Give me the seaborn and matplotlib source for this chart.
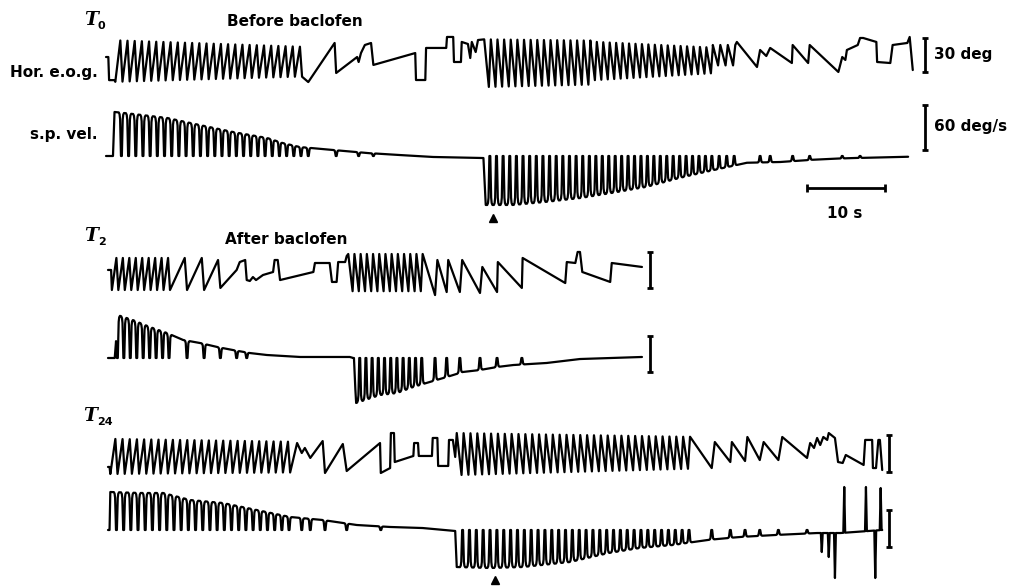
import numpy as np
import pandas as pd
import matplotlib
matplotlib.use("Agg")
import matplotlib.pyplot as plt
import seaborn as sns

# ---------------------------------------------------------------------------
# Recordings: time in s, horizontal e.o.g. in deg, slow-phase velocity in deg/s
# ---------------------------------------------------------------------------

# Regular nystagmus runs:
# (start s, end s, beats, low0, high0, low1, high1, slow-phase sense)
# sense +1: slow phase drifts up, quick phase resets down; -1: the reverse
T0_EOG_RUNS = [
    (1.2, 25.3, 26, -17.5, 19.0, -13.0, 13.5, +1),
    (48.8, 62.5, 16, -22.0, 20.0, -20.0, 19.0, -1),
    (62.5, 78.3, 19, -16.0, 18.0, -10.0, 13.0, -1),
    (78.3, 81.2, 3, -3.0, 15.0, -3.0, 15.0, -1),
]
# irregular stretches of the e.o.g. between the runs
T0_EOG_FREE_T = [0.0, 0.3, 0.4, 1.1, 26.1, 29.5, 29.7, 32.4, 32.6, 32.9, 33.4, 34.2, 34.5,
                 39.9, 40.0, 41.2, 41.3, 43.9, 44.0, 44.8, 44.9, 45.8, 45.9, 46.7, 47.0,
                 47.2, 47.7, 48.0, 81.4, 84.0, 84.4, 85.2, 85.7, 88.5, 88.6, 90.6, 90.8,
                 94.5, 95.0, 95.4, 95.6, 97.0, 97.3, 97.7, 99.4, 99.5, 101.2, 101.5, 103.4,
                 103.7, 104.1]
T0_EOG_FREE_V = [4.4, 4.4, -16.0, -16.0, -17.7, 16.8, -9.7, 4.4, 0.0, 7.9, 15.0, 16.8, -2.6,
                 7.9, -15.9, -15.9, 12.4, 12.4, 22.1, 22.1, 0.0, 0.0, 17.7, 15.9, 3.5,
                 17.7, 8.8, 19.4, 17.7, -4.4, 10.6, 5.3, 12.4, -0.9, 15.0, -0.9, 15.0,
                 -8.8, 4.4, 1.8, 10.6, 15.0, 21.2, 21.2, 17.7, 0.0, -0.9, 15.0, 16.8,
                 22.1, -7.1]
# slow-phase velocity level between quick phases
T0_VEL_T = [0.0, 0.9, 1.1, 3.5, 7.9, 12.1, 16.4, 20.8, 22.8, 25.0, 29.3, 33.7, 37.9,
            42.2, 48.7, 49.0, 49.5, 52.5, 56.9, 61.2, 65.4, 69.8, 74.1, 78.3, 82.7,
            87.0, 91.2, 95.6, 103.5]
T0_VEL_V = [0.0, 0.0, 58.7, 56.0, 50.7, 41.3, 32.0, 24.0, 17.3, 12.0, 8.0, 4.0, 1.3,
            -1.3, -2.7, -65.3, -65.3, -65.3, -61.0, -56.0, -49.0, -41.0, -29.0, -19.0,
            -9.0, -8.0, -5.0, -3.0, -1.0]
T0_VEL_QUICK_EXTRA = [26.1, 29.7, 32.6, 34.5, 84.4, 85.7, 88.6, 90.8, 95.0, 97.3]

T2_EOG_RUNS = [
    (0.5, 8.0, 9, -15.0, 11.7, -15.0, 11.7, +1),
    (31.0, 40.6, 12, -16.0, 15.0, -16.0, 15.0, -1),
]
T2_EOG_FREE_T = [0.0, 0.4, 9.9, 10.2, 12.1, 12.4, 14.2, 14.5, 16.6, 17.0, 17.7, 17.9,
                 18.3, 18.7, 19.1, 20.0, 21.3, 21.5, 21.9, 22.2, 26.5, 26.7, 28.6, 28.9,
                 29.5, 29.7, 30.6, 30.8, 42.2, 42.5, 43.7, 43.9, 45.4, 45.7, 48.0, 48.3,
                 50.2, 50.3, 53.4, 53.5, 59.0, 59.2, 60.3, 60.6, 60.9, 61.2, 64.8, 65.0,
                 68.9]
T2_EOG_FREE_V = [1.7, 1.7, 11.7, -15.0, 11.7, -15.0, 10.0, -13.3, 1.7, 8.3, 10.0, -6.7,
                 -7.5, -4.2, -6.7, -2.5, 0.0, 10.0, 10.0, -6.7, 0.0, 7.5, 7.5, -8.3,
                 -8.3, 8.3, 8.3, 13.3, -19.2, 10.0, -16.7, 10.0, -16.7, 10.0, -17.5, 4.2,
                 -16.7, 8.3, -13.3, 11.7, -9.2, 8.3, 7.5, 16.7, 16.7, 0.0, -8.3, 7.5,
                 4.2]
T2_VEL_T = [0.0, 0.9, 1.2, 3.2, 5.4, 7.6, 9.7, 11.9, 14.1, 16.1, 18.3, 20.5, 24.8,
            31.2, 31.7, 32.0, 35.1, 37.3, 39.4, 41.5, 43.7, 45.8, 48.0, 50.2, 52.3,
            56.6, 60.9, 68.9]
T2_VEL_V = [0.0, 0.0, 71.7, 63.3, 51.7, 41.7, 30.0, 25.0, 18.3, 13.3, 8.3, 5.0, 1.7,
            1.7, 0.0, -75.0, -61.7, -58.3, -48.3, -40.0, -31.7, -23.3, -20.0, -15.0,
            -11.7, -8.3, -1.7, 1.7]
T2_VEL_QUICK_EXTRA = [10.2, 12.4, 14.5, 16.6, 17.9, 42.2, 43.7, 45.4, 48.0, 50.2, 53.4]

T24_EOG_RUNS = [
    (0.3, 23.5, 25, -16.2, 12.2, -15.0, 10.0, +1),
    (45.0, 75.1, 34, -17.0, 17.0, -12.0, 14.0, -1),
]
T24_EOG_FREE_T = [0.0, 0.2, 24.4, 25.0, 25.4, 26.1, 27.7, 28.0, 30.3, 30.8, 35.1, 35.2,
                  36.4, 36.5, 36.9, 37.0, 39.4, 39.5, 40.0, 40.1, 41.8, 41.9, 42.5, 42.6,
                  43.9, 44.0, 44.5, 44.8, 77.9, 78.3, 80.3, 80.5, 82.2, 82.5, 84.1, 84.6,
                  86.5, 87.0, 90.2, 90.6, 91.1, 91.5, 91.9, 92.3, 92.8, 93.0, 93.8, 94.2,
                  94.8, 95.2, 97.5, 97.7, 98.6, 98.7, 99.1, 99.4, 99.6, 99.9]
T24_EOG_FREE_V = [-10.5, -10.5, 8.9, 0.8, 4.9, -3.2, 10.5, -15.4, 8.1, -13.8, 8.9, -15.4,
                  -11.4, 17.0, 17.0, -6.5, -1.6, 8.9, 8.9, -1.6, -1.6, 13.0, 13.0, -9.7,
                  -9.7, 11.4, 11.4, -2.4, -11.4, 9.7, -6.5, 9.7, -5.7, 13.8, -4.9, 9.7,
                  -4.9, 13.8, -3.2, 8.9, 4.9, 13.0, 7.3, 13.8, 11.4, 17.0, 13.0, -6.5,
                  -7.3, -0.8, -8.9, 11.4, 11.4, -11.4, -11.4, 11.4, 11.4, -13.0]
T24_VEL_T = [0.0, 0.2, 0.3, 4.1, 7.1, 10.6, 14.8, 19.2, 23.5, 27.7, 32.1, 36.4, 40.6,
             44.8, 45.0, 49.3, 53.5, 59.6, 64.6, 68.6, 72.9, 77.3, 81.5, 86.1, 91.5,
             94.5, 99.9]
T24_VEL_V = [0.0, 0.0, 61.6, 60.0, 60.0, 48.6, 43.8, 32.4, 21.1, 16.2, 8.1, 4.9, 3.2,
             -1.6, -60.0, -61.6, -60.0, -51.9, -37.3, -29.2, -24.3, -16.2, -11.3, -8.1,
             -4.9, -4.9, 0.0]
T24_VEL_QUICK_EXTRA = [25.0, 26.1, 28.0, 30.8, 35.2, 77.9, 80.3, 82.2, 84.1, 86.5, 90.2]
# large saccadic artefacts at the end of the T24 velocity record
T24_VEL_SPIKE_T = [92.1, 93.0, 93.8, 95.0, 97.8, 99.0, 99.7]
T24_VEL_SPIKE_V = [-35.7, -43.8, -77.8, 69.7, 69.7, -77.8, 68.0]

EVENT_T = 49.9          # time of the marked event (arrowheads), s

# ---------------------------------------------------------------------------
# Layout (figure pixels)
# ---------------------------------------------------------------------------
W, H = 1018, 586
PX_PER_S = 7.75
QUICK_FRAC = 0.3  # share of a beat taken by the quick phase
QUICK_MAX = 0.35  # longest quick phase, s
NOTCH = 0.17      # half width of a quick-phase notch in the velocity record, s
LW = 1.6

sns.set_theme(style="white")
plt.rcParams["font.family"] = ["DejaVu Sans"]
plt.rcParams["text.color"] = "black"

fig = plt.figure(figsize=(W / 100, H / 100), dpi=100)


def run_trace(runs):
    ts, vs, quick = [], [], []
    for t0, t1, n, lo0, hi0, lo1, hi1, sense in runs:
        p = (t1 - t0) / n
        q = min(QUICK_FRAC * p, QUICK_MAX)
        a = lo0
        for i in range(n):
            f = i / max(n - 1, 1)
            lo = lo0 + (lo1 - lo0) * f
            hi = hi0 + (hi1 - hi0) * f
            a, b = (lo, hi) if sense > 0 else (hi, lo)
            ts += [t0 + i * p, t0 + (i + 1) * p - q]
            vs += [a, b]
            quick.append(t0 + (i + 1) * p - q / 2)
        ts.append(t1)
        vs.append(a)
    return ts, vs, quick


def eog_frame(runs, free_t, free_v):
    ts, vs, quick = run_trace(runs)
    t = np.concatenate([ts, free_t]).astype(float)
    v = np.concatenate([vs, free_v]).astype(float)
    order = np.argsort(t, kind="stable")
    return pd.DataFrame({"t": t[order], "v": v[order]}), quick


def vel_frame(env_t, env_v, notches):
    """notches: list of (time, level, half width, rounded shoulders?)"""
    env_t = np.asarray(env_t, float)
    env_v = np.asarray(env_v, float)
    nt = np.array([n[0] for n in notches])
    reach = np.array([n[2] * (2.0 if n[3] else 1.0) for n in notches])
    keep = np.array([np.all(np.abs(nt - t) > reach) for t in env_t])
    pt, pv = list(env_t[keep]), list(env_v[keep])

    def env(t):
        return float(np.interp(t, env_t, env_v))

    for tn, level, w, rounded in notches:
        if rounded:
            # arch shoulders either side of a flat-bottomed dip
            for dt, k in [(-2.0, 1.0), (-1.4, 0.96), (-1.0, 0.85)]:
                pt.append(tn + dt * w); pv.append(level + (env(tn + dt * w) - level) * k)
            pt += [tn - w / 3, tn + w / 3]; pv += [level, level]
            for dt, k in [(1.0, 0.85), (1.4, 0.96), (2.0, 1.0)]:
                pt.append(tn + dt * w); pv.append(level + (env(tn + dt * w) - level) * k)
        else:
            pt += [tn - w, tn, tn + w]
            pv += [env(tn - w), level, env(tn + w)]
    pt, pv = np.array(pt), np.array(pv)
    order = np.argsort(pt, kind="stable")
    return pd.DataFrame({"t": pt[order], "v": pv[order]})


def trace_axes(x0, yz, gain, name):
    ax = fig.add_axes([0, 0, 1, 1], label=name)
    ax.set_xlim(-x0 / PX_PER_S, (W - x0) / PX_PER_S)
    ax.set_ylim((yz - H) / gain, yz / gain)
    ax.set_axis_off()
    ax.patch.set_alpha(0)
    return ax


def draw(ax, df):
    sns.lineplot(data=df, x="t", y="v", ax=ax, sort=False, estimator=None,
                 errorbar=None, color="black", linewidth=LW, legend=False)
    ax.set_axis_off()


def cal_bar(ax, t, lo, span):
    cap = 3.2 / PX_PER_S
    kw = dict(color="black", lw=2.0, solid_capstyle="butt", clip_on=False)
    ax.plot([t, t], [lo, lo + span], **kw)
    ax.plot([t - cap, t + cap], [lo, lo], **kw)
    ax.plot([t - cap, t + cap], [lo + span, lo + span], **kw)


def label(x, y, s, **kw):
    fig.text(x / W, 1 - y / H, s, **kw)


def t_label(x, y, sub):
    label(x, y, "T", fontsize=13.5, fontstyle="italic", fontweight="bold",
          family="DejaVu Serif", va="center", ha="left")
    label(x + 14, y + 6, sub, fontsize=8, fontweight="bold", va="center", ha="left")


BOLD = dict(fontsize=11, fontweight="bold", va="center")

# ---------------------------- T0 -------------------------------------------
ax = trace_axes(106, 62, 1.133, "t0_eog")
df, quick0 = eog_frame(T0_EOG_RUNS, T0_EOG_FREE_T, T0_EOG_FREE_V)
draw(ax, df)
cal_bar(ax, (925 - 106) / PX_PER_S, -8.8, 30)

ax = trace_axes(106, 156, 0.75, "t0_vel")
notches = [(t, 0.0, NOTCH, True) for t in list(quick0) + T0_VEL_QUICK_EXTRA]
draw(ax, vel_frame(T0_VEL_T, T0_VEL_V, notches))
cal_bar(ax, (925 - 106) / PX_PER_S, 8.0, 60)
ax.plot([EVENT_T], [-82.0], marker="^", ms=6, color="black", clip_on=False)
# 10 s time calibration
tb = (807 - 106) / PX_PER_S
kw = dict(color="black", lw=2.0, solid_capstyle="butt")
ax.plot([tb, tb + 10], [-42.7, -42.7], **kw)
ax.plot([tb, tb], [-37.4, -48.0], **kw)
ax.plot([tb + 10, tb + 10], [-37.4, -48.0], **kw)

t_label(84, 20, "0")
label(227, 21, "Before baclofen", ha="left", **BOLD)
label(98, 72, "Hor. e.o.g.", ha="right", **BOLD)
label(97, 135, "s.p. vel.", ha="right", **BOLD)
label(934, 55, "30 deg", ha="left", **BOLD)
label(934, 127, "60 deg/s", ha="left", **BOLD)
label(845, 213, "10 s", ha="center", **BOLD)

# ---------------------------- T2 -------------------------------------------
ax = trace_axes(108, 272, 1.2, "t2_eog")
df, quick2 = eog_frame(T2_EOG_RUNS, T2_EOG_FREE_T, T2_EOG_FREE_V)
draw(ax, df)
cal_bar(ax, (650 - 108) / PX_PER_S, -13.3, 30)

ax = trace_axes(108, 358, 0.6, "t2_vel")
notches = [(t, 0.0, NOTCH, True) for t in list(quick2) + T2_VEL_QUICK_EXTRA]
draw(ax, vel_frame(T2_VEL_T, T2_VEL_V, notches))
cal_bar(ax, (650 - 108) / PX_PER_S, -23.3, 60)

t_label(84, 236, "2")
label(225, 239, "After baclofen", ha="left", **BOLD)

# ---------------------------- T24 ------------------------------------------
ax = trace_axes(108, 454, 1.233, "t24_eog")
df, quick24 = eog_frame(T24_EOG_RUNS, T24_EOG_FREE_T, T24_EOG_FREE_V)
draw(ax, df)
cal_bar(ax, (889 - 108) / PX_PER_S, -14.6, 30)

ax = trace_axes(108, 530, 0.617, "t24_vel")
notches = [(t, 0.0, NOTCH, True) for t in list(quick24) + T24_VEL_QUICK_EXTRA]
notches += [(t, v, 0.12, False) for t, v in zip(T24_VEL_SPIKE_T, T24_VEL_SPIKE_V)]
draw(ax, vel_frame(T24_VEL_T, T24_VEL_V, notches))
cal_bar(ax, (889 - 108) / PX_PER_S, -27.6, 60)
ax.plot([EVENT_T], [-81.0], marker="^", ms=6, color="black", clip_on=False)

t_label(83, 416, "24")

fig.savefig("out.png", dpi=100, facecolor="white")
